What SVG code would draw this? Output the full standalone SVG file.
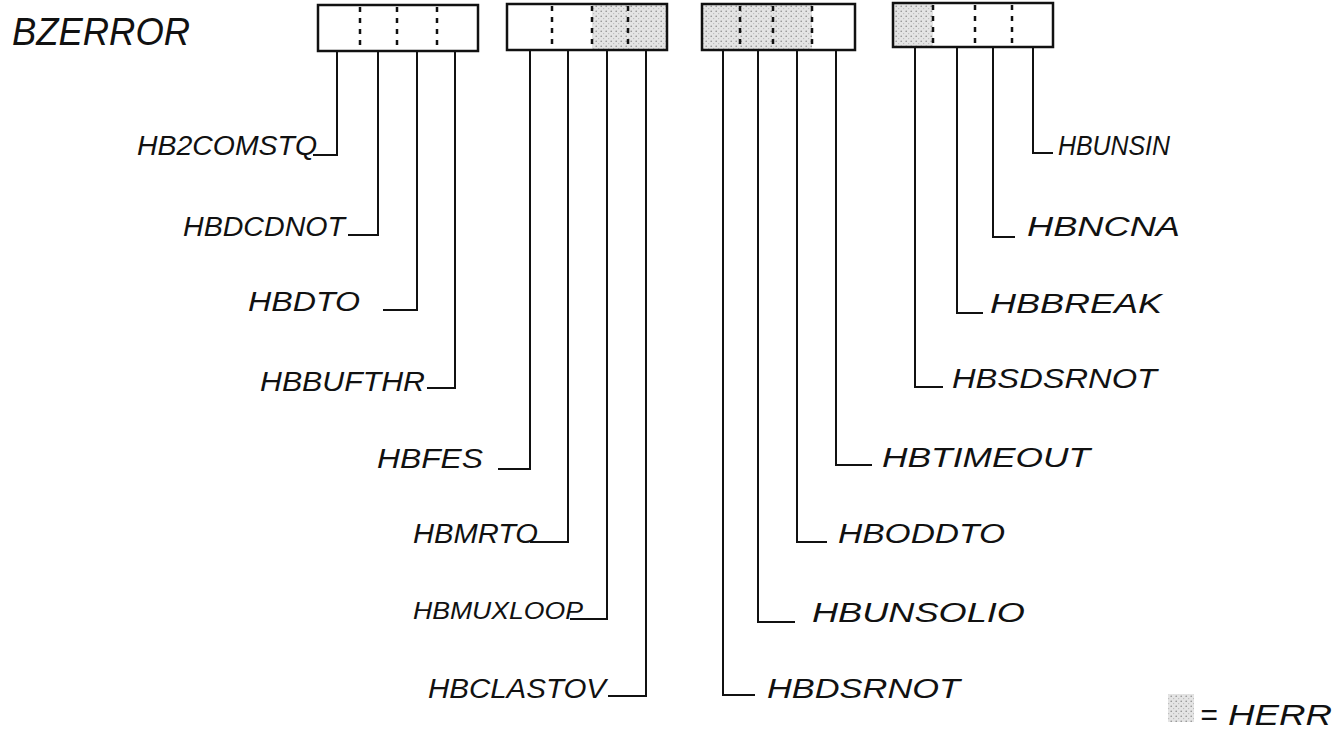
<svg xmlns="http://www.w3.org/2000/svg" width="1332" height="731" viewBox="0 0 1332 731">
<style>
.bg{fill:#ffffff}
.box{fill:none;stroke:#111;stroke-width:2.5}
.div{stroke:#111;stroke-width:2.5;stroke-dasharray:5 6}
.shade{fill:url(#stip)}
.conn{fill:none;stroke:#111;stroke-width:2}
.lbl{font-family:"Liberation Sans",Arial,sans-serif;font-size:27px;fill:#111;font-style:italic}
.title{font-family:"Liberation Sans",Arial,sans-serif;font-size:38px;fill:#111;font-style:italic}
</style>
<defs>
<pattern id="stip" width="5" height="5" patternUnits="userSpaceOnUse">
<rect width="5" height="5" fill="#e4e4e4"/>
<circle cx="1.2" cy="1.2" r="0.8" fill="#8a8a8a"/>
<circle cx="3.7" cy="3.6" r="0.6" fill="#b0b0b0"/>
</pattern>
</defs>
<rect class="bg" x="0" y="0" width="1332" height="731"/>

<g id="title"><text class="title" x="12" y="45" textLength="178" lengthAdjust="spacingAndGlyphs">BZERROR</text></g>

<g id="word1">
<rect class="box" x="318" y="5" width="160" height="46"/>
<line class="div" x1="360" y1="7" x2="360" y2="49"/>
<line class="div" x1="397" y1="7" x2="397" y2="49"/>
<line class="div" x1="437" y1="7" x2="437" y2="49"/>
</g>
<g id="word2">
<rect class="shade" x="592" y="4" width="75" height="46"/>
<rect class="box" x="507" y="4" width="160" height="46"/>
<line class="div" x1="552" y1="6" x2="552" y2="48"/>
<line class="div" x1="592" y1="6" x2="592" y2="48"/>
<line class="div" x1="628" y1="6" x2="628" y2="48"/>
</g>
<g id="word3">
<rect class="shade" x="702" y="4" width="110" height="46"/>
<rect class="box" x="702" y="4" width="153" height="46"/>
<line class="div" x1="740" y1="6" x2="740" y2="48"/>
<line class="div" x1="773" y1="6" x2="773" y2="48"/>
<line class="div" x1="812" y1="6" x2="812" y2="48"/>
</g>
<g id="word4">
<rect class="shade" x="893" y="3" width="40" height="44"/>
<rect class="box" x="893" y="3" width="160" height="44"/>
<line class="div" x1="933" y1="5" x2="933" y2="45"/>
<line class="div" x1="975" y1="5" x2="975" y2="45"/>
<line class="div" x1="1012" y1="5" x2="1012" y2="45"/>
</g>

<g id="connectors">
<polyline class="conn" points="337,51 337,155 313,155"/>
<polyline class="conn" points="378,51 378,235 348,235"/>
<polyline class="conn" points="417,51 417,310 383,310"/>
<polyline class="conn" points="455,51 455,388 427,388"/>
<polyline class="conn" points="530,50 530,469 498,469"/>
<polyline class="conn" points="568,50 568,542 530,542"/>
<polyline class="conn" points="607,50 607,619 570,619"/>
<polyline class="conn" points="646,50 646,696 608,696"/>
<polyline class="conn" points="723,50 723,695 755,695"/>
<polyline class="conn" points="758,50 758,622 795,622"/>
<polyline class="conn" points="797,50 797,542 827,542"/>
<polyline class="conn" points="836,50 836,465 872,465"/>
<polyline class="conn" points="915,47 915,387 943,387"/>
<polyline class="conn" points="957,47 957,313 983,313"/>
<polyline class="conn" points="993,47 993,237 1015,237"/>
<polyline class="conn" points="1033,47 1033,153 1053,153"/>
</g>

<g id="lbl-HB2COMSTQ"><text class="lbl" x="137" y="155" textLength="180" lengthAdjust="spacingAndGlyphs">HB2COMSTQ</text></g>
<g id="lbl-HBDCDNOT"><text class="lbl" x="183" y="236" textLength="162" lengthAdjust="spacingAndGlyphs">HBDCDNOT</text></g>
<g id="lbl-HBDTO"><text class="lbl" x="248" y="311" textLength="112" lengthAdjust="spacingAndGlyphs">HBDTO</text></g>
<g id="lbl-HBBUFTHR"><text class="lbl" x="260" y="391" textLength="165" lengthAdjust="spacingAndGlyphs">HBBUFTHR</text></g>
<g id="lbl-HBFES"><text class="lbl" x="377" y="468" textLength="106" lengthAdjust="spacingAndGlyphs">HBFES</text></g>
<g id="lbl-HBMRTO"><text class="lbl" x="413" y="543" textLength="125" lengthAdjust="spacingAndGlyphs">HBMRTO</text></g>
<g id="lbl-HBMUXLOOP"><text class="lbl" x="413" y="619" textLength="170" lengthAdjust="spacingAndGlyphs" style="font-size:24px">HBMUXLOOP</text></g>
<g id="lbl-HBCLASTOV"><text class="lbl" x="428" y="698" textLength="178" lengthAdjust="spacingAndGlyphs">HBCLASTOV</text></g>
<g id="lbl-HBDSRNOT"><text class="lbl" x="767" y="698" textLength="193" lengthAdjust="spacingAndGlyphs">HBDSRNOT</text></g>
<g id="lbl-HBUNSOLIO"><text class="lbl" x="812" y="622" textLength="213" lengthAdjust="spacingAndGlyphs">HBUNSOLIO</text></g>
<g id="lbl-HBODDTO"><text class="lbl" x="838" y="543" textLength="167" lengthAdjust="spacingAndGlyphs">HBODDTO</text></g>
<g id="lbl-HBTIMEOUT"><text class="lbl" x="882" y="467" textLength="208" lengthAdjust="spacingAndGlyphs">HBTIMEOUT</text></g>
<g id="lbl-HBSDSRNOT"><text class="lbl" x="952" y="388" textLength="205" lengthAdjust="spacingAndGlyphs">HBSDSRNOT</text></g>
<g id="lbl-HBBREAK"><text class="lbl" x="990" y="313" textLength="172" lengthAdjust="spacingAndGlyphs">HBBREAK</text></g>
<g id="lbl-HBNCNA"><text class="lbl" x="1027" y="236" textLength="153" lengthAdjust="spacingAndGlyphs">HBNCNA</text></g>
<g id="lbl-HBUNSIN"><text class="lbl" x="1058" y="155" textLength="112" lengthAdjust="spacingAndGlyphs">HBUNSIN</text></g>

<g id="legend">
<rect class="shade" x="1168" y="694" width="26" height="28"/>
<text class="lbl" x="1200" y="725" style="font-size:30px">=</text>
<text class="lbl" x="1228" y="725" textLength="104" lengthAdjust="spacingAndGlyphs" style="font-size:30px">HERR</text>
</g>
</svg>
